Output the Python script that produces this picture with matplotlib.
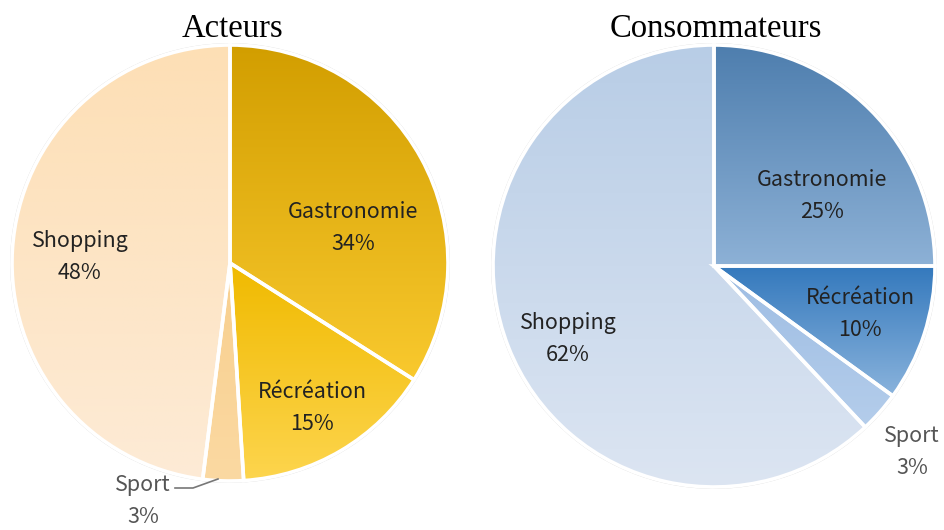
#!/usr/bin/env python3
"""Two pie charts: activity split for actors vs consumers."""

import numpy as np
import matplotlib.pyplot as plt
from matplotlib.colors import LinearSegmentedColormap
from matplotlib.patches import Circle

categories = ["Gastronomie", "Récréation", "Sport", "Shopping"]
acteurs = [34, 15, 3, 48]
consommateurs = [25, 10, 3, 62]

# (top, bottom) colours of each wedge's vertical gradient
gold_grad = [("#D29E00", "#F9C92E"), ("#F0BA00", "#FDD54E"),
             ("#F8CF8E", "#FBD9A2"), ("#FDDFB5", "#FDEBD6")]
blue_grad = [("#4E7EAE", "#8DB1D6"), ("#3479BD", "#8AB3DC"),
             ("#9EBDE3", "#B4CDEB"), ("#B8CDE6", "#DCE5F2")]

W, H = 944, 530
LABEL_FONT = ["Noto Sans CJK SC", "DejaVu Sans"]


def px(x, y):
    # pixel position (from top-left) -> data coords
    return x, H - y


def draw_pie(ax, values, grads, center, radius, title, label_pos):
    cx, cy = px(*center)
    ax.add_patch(Circle((cx, cy), radius + 1.2, facecolor="none",
                        edgecolor="#d9d9d9", linewidth=1.0, zorder=0.5))
    wedges, _ = ax.pie(values, startangle=90, counterclock=False,
                       center=(cx, cy), radius=radius,
                       wedgeprops=dict(facecolor="none", edgecolor="white",
                                       linewidth=2.6, zorder=3))
    grad = np.linspace(0, 1, 256).reshape(-1, 1)
    for w, (top, bot) in zip(wedges, grads):
        ext = w.get_path().get_extents()
        cmap = LinearSegmentedColormap.from_list("g", [top, bot])
        im = ax.imshow(grad, cmap=cmap, aspect="auto", interpolation="bilinear",
                       origin="upper", extent=[ext.x0, ext.x1, ext.y0, ext.y1],
                       zorder=2)
        im.set_clip_path(w)

    for name, val, (lx, ly) in zip(categories, values, label_pos):
        color = "#555555" if name == "Sport" else "#222222"
        tx, ty = px(lx, ly)
        ax.text(tx, ty, f"{name}\n{val}%", ha="center", va="center",
                fontsize=15.5, color=color, family=LABEL_FONT,
                linespacing=1.6, zorder=4)

    tx, ty = px(center[0] + 2, 29)
    ax.text(tx, ty, title, ha="center", va="center", fontsize=23.5,
            family="Liberation Serif", color="black", zorder=4)


fig = plt.figure(figsize=(W / 100, H / 100), dpi=100)
ax = fig.add_axes([0, 0, 1, 1])

draw_pie(ax, acteurs, gold_grad, (230, 263), 218, "Acteurs",
         [(353, 228), (312, 408), (143, 501), (80, 257)])
draw_pie(ax, consommateurs, blue_grad, (714, 266), 221, "Consommateurs",
         [(822, 196), (860, 314), (912, 452), (568, 339)])

# leader line for the small Sport slice on the left pie
ax.plot([175, 193, 218], [H - 488, H - 488, H - 479], color="#777777",
        linewidth=1.2, zorder=4)

ax.set_xlim(0, W)
ax.set_ylim(0, H)
ax.set_aspect("auto")
ax.axis("off")
fig.savefig("out.png", dpi=100)
